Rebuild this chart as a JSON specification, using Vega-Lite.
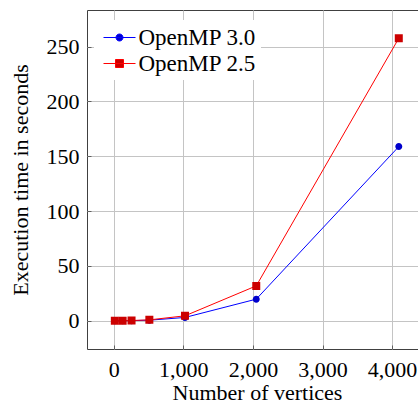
{
  "$schema": "https://vega.github.io/schema/vega-lite/v6.json",
  "width": 331,
  "height": 339,
  "autosize": {"type": "pad"},
  "padding": {"left": 9, "top": 10, "right": 0, "bottom": 0},
  "config": {
    "font": "Liberation Serif, serif",
    "view": {"stroke": "#404040", "strokeWidth": 1},
    "axis": {
      "grid": true,
      "gridColor": "#c4c4c4",
      "gridWidth": 1,
      "domain": false,
      "ticks": true,
      "tickSize": -4,
      "tickColor": "#606060",
      "labelFont": "Liberation Serif, serif",
      "labelFontSize": 22,
      "labelColor": "black",
      "titleFont": "Liberation Serif, serif",
      "titleFontSize": 22,
      "titleFontWeight": "normal",
      "titleColor": "black"
    },
    "legend": {
      "orient": "none",
      "legendX": 7,
      "legendY": 10,
      "padding": 4.5,
      "fillColor": "white",
      "strokeColor": null,
      "labelFont": "Liberation Serif, serif",
      "labelFontSize": 23,
      "labelColor": "black",
      "labelLimit": 300,
      "symbolSize": 625,
      "symbolStrokeWidth": 1,
      "symbolOffset": 8,
      "symbolOpacity": 1,
      "labelOffset": 6,
      "rowPadding": 1
    }
  },
  "data": {
    "values": [
      {"vertices": 16, "time": 0, "series": "OpenMP 3.0"},
      {"vertices": 128, "time": 0, "series": "OpenMP 3.0"},
      {"vertices": 256, "time": 0.1, "series": "OpenMP 3.0"},
      {"vertices": 512, "time": 0.5, "series": "OpenMP 3.0"},
      {"vertices": 1024, "time": 3, "series": "OpenMP 3.0"},
      {"vertices": 2048, "time": 19.7, "series": "OpenMP 3.0"},
      {"vertices": 4096, "time": 158.8, "series": "OpenMP 3.0"},
      {"vertices": 16, "time": 0, "series": "OpenMP 2.5"},
      {"vertices": 128, "time": 0, "series": "OpenMP 2.5"},
      {"vertices": 256, "time": 0.2, "series": "OpenMP 2.5"},
      {"vertices": 512, "time": 0.8, "series": "OpenMP 2.5"},
      {"vertices": 1024, "time": 4.5, "series": "OpenMP 2.5"},
      {"vertices": 2048, "time": 31.8, "series": "OpenMP 2.5"},
      {"vertices": 4096, "time": 257.6, "series": "OpenMP 2.5"}
    ]
  },
  "encoding": {
    "x": {
      "field": "vertices",
      "type": "quantitative",
      "scale": {"domain": [-384, 4372], "nice": false, "zero": false},
      "axis": {"values": [0, 1000, 2000, 3000, 4000], "format": ",d", "title": "Number of vertices", "labelPadding": 14, "titlePadding": 2, "titleX": 170}
    },
    "y": {
      "field": "time",
      "type": "quantitative",
      "scale": {"domain": [-25.76, 283.36], "nice": false, "zero": false},
      "axis": {"values": [0, 50, 100, 150, 200, 250], "title": "Execution time in seconds", "labelPadding": 12, "titlePadding": 14}
    }
  },
  "layer": [
    {
      "mark": {"type": "line", "strokeWidth": 1},
      "encoding": {
        "stroke": {
          "field": "series",
          "type": "nominal",
          "sort": ["OpenMP 3.0", "OpenMP 2.5"],
          "scale": {"domain": ["OpenMP 3.0", "OpenMP 2.5"], "range": ["#0000ff", "#ff0000"]},
          "legend": {"title": null}
        }
      }
    },
    {
      "mark": {"type": "point", "filled": true, "size": 625, "opacity": 1, "strokeWidth": 0},
      "encoding": {
        "fill": {
          "field": "series",
          "type": "nominal",
          "sort": ["OpenMP 3.0", "OpenMP 2.5"],
          "scale": {"domain": ["OpenMP 3.0", "OpenMP 2.5"], "range": ["#0000cc", "#cc0000"]},
          "legend": {"title": null}
        },
        "shape": {
          "field": "series",
          "type": "nominal",
          "sort": ["OpenMP 3.0", "OpenMP 2.5"],
          "scale": {
            "domain": ["OpenMP 3.0", "OpenMP 2.5"],
            "range": [
              "M-1.28,0H1.28M0.28,0A0.28,0.28 0 1 1 -0.28,0A0.28,0.28 0 1 1 0.28,0Z",
              "M-1.28,0H1.28M-0.32,-0.32H0.32V0.32H-0.32Z"
            ]
          },
          "legend": {"title": null}
        }
      }
    }
  ]
}
